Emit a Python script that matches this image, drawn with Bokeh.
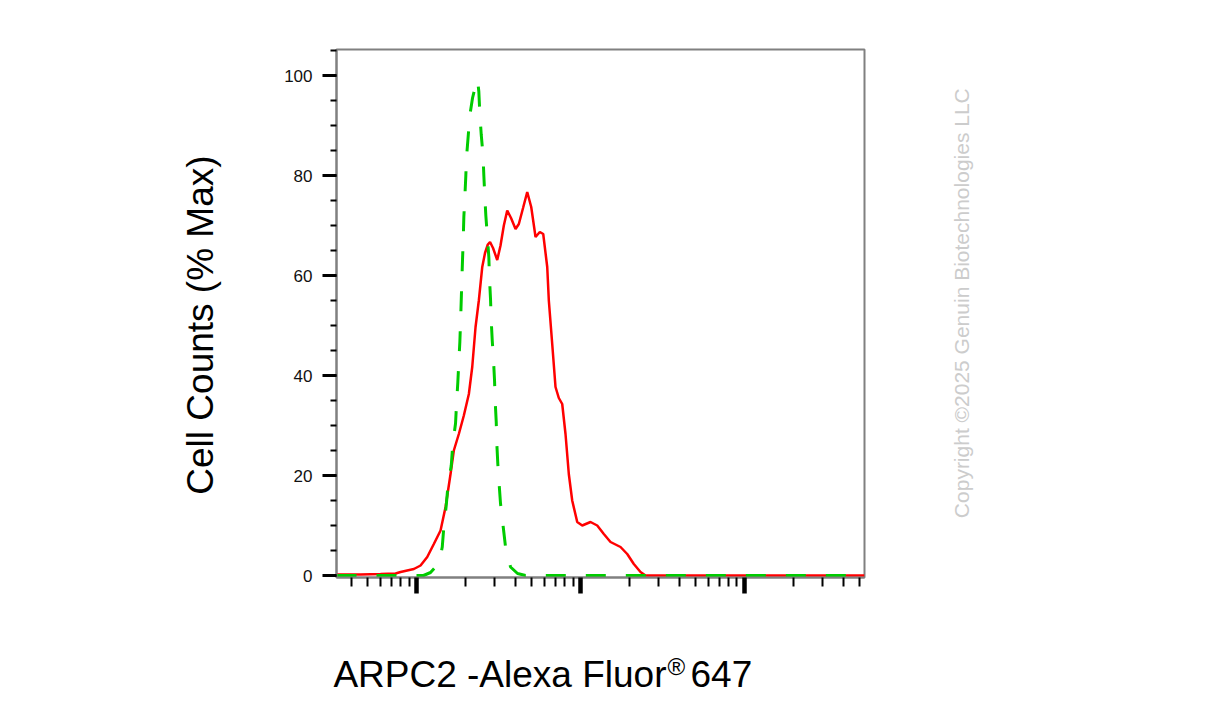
import math
from bokeh.plotting import figure
from bokeh.models import FixedTicker, Range1d
from bokeh.layouts import row, column
from bokeh.core.properties import value
from bokeh.embed import file_html
from bokeh.resources import INLINE

# ---- data (fluorescence intensity, % of max) ----
control_x = [32.5, 79.9, 110.3, 121.7, 130.6, 140.1, 143.5, 146.7, 151.7, 155.2,
             162.8, 166.5, 172.9, 175.4, 178.6, 181.1, 183.7, 185.5, 187.3, 188.9,
             190.8, 192.7, 194.3, 197.1, 199.8, 201.8, 206.7, 211.3, 219.5, 229.0,
             235.5, 239.8, 243.2, 248.0, 254.4, 257.3, 260.9, 264.6, 271.0, 276.0,
             278.7, 282.6, 285.4, 289.5, 294.8, 299.0, 301.9, 306.2, 308.8, 313.1,
             319.4, 325.2, 337.8, 348.9, 374.3, 413.0, 461.9, 53930]
control_y = [0, 0, 0, 0.6, 1.7, 4, 5.7, 9.7, 14, 17.7,
             22, 26.4, 30.4, 34.4, 38.7, 42.7, 46.7, 50.7, 55, 59,
             63.3, 67.3, 71.7, 75.7, 80, 83.7, 88, 92, 95.5, 98,
             99.2, 96.8, 92.4, 88.2, 84, 80, 75.7, 72, 67.3, 63.7,
             59.3, 55.3, 51, 47, 43, 39, 34.7, 30.7, 26.3, 22.3,
             18, 14.4, 9.7, 5.7, 1.7, 0.4, 0, 0]

sample_x = [32.5, 45.6, 60.3, 74.5, 79.9, 96.3, 105.8, 116.2, 127.5, 140.1,
            150.3, 161.2, 168.8, 181.1, 194.3, 208.5, 218.6, 229.0, 239.8, 251.6,
            261.6, 272.1, 280.7, 292.7, 310.5, 325.2, 340.7, 357.3, 376.9, 401.6,
            420.6, 446.2, 473.2, 500.5, 531.8, 564.7, 592.3, 626.6, 640.8, 672.1,
            703.9, 737.3, 773.4, 810.0, 848.4, 889.8, 954.8, 1024.2, 1150.8, 1264.5,
            1387.1, 1523.7, 1753.9, 1926.8, 2113.5, 2322.0, 2491.0, 5393, 53930]
sample_y = [0.2, 0.2, 0.3, 0.4, 0.7, 1.3, 2, 3.7, 6.3, 9,
            13.7, 20.3, 25, 28.3, 32, 36.3, 41.7, 49.7, 55, 61.7,
            64.5, 66.2, 66.7, 65.5, 63.1, 66, 70, 73, 71.5, 69.3,
            70.3, 73.5, 76.7, 73.7, 67.7, 68.7, 68.3, 61.7, 55, 46.3,
            37.7, 35.5, 34.3, 28.3, 20.3, 15, 10.7, 10, 10.7, 10,
            8.3, 6.7, 5.7, 4.3, 2.3, 0.7, 0, 0, 0]

y_major = [0, 20, 40, 60, 80, 100]
y_minor = [0, 5, 10, 15, 20, 25, 30, 35, 40, 45, 50, 55, 60, 65, 70, 75, 80, 85, 90, 95, 100, 105]
x_major = [100, 1000, 10000]
x_minor = [40, 50, 60, 70, 80, 90,
           200, 300, 400, 500, 600, 700, 800, 900,
           2000, 3000, 4000, 5000, 6000, 7000, 8000, 9000,
           20000, 30000, 40000, 50000]

x_title = "ARPC2 -Alexa Fluor"
x_title_mark = "®"
x_title_end = "647"
y_title = "Cell Counts (% Max)"
copyright_text = "Copyright ©2025 Genuin Biotechnologies LLC"

FONT = "Liberation Sans"
TOP_H = 640


def blank(width, height):
    f = figure(width=width, height=height,
               x_range=Range1d(0, width), y_range=Range1d(0, height),
               output_backend="svg", toolbar_location=None, min_border=0,
               x_axis_location=None, y_axis_location=None)
    f.grid.visible = False
    f.outline_line_color = None
    f.background_fill_color = "white"
    f.border_fill_color = "white"
    return f


# ---- main chart ----
p = figure(width=700, height=TOP_H, x_axis_type="log",
           x_range=Range1d(32.5, 53930), y_range=Range1d(-0.4, 105.2),
           output_backend="svg", toolbar_location=None,
           min_border_left=106, min_border_right=66,
           min_border_top=49, min_border_bottom=63)
p.grid.visible = False
p.background_fill_color = "white"
p.border_fill_color = "white"
p.outline_line_color = "#808080"
p.outline_line_width = 2

ya = p.yaxis[0]
ya.ticker = FixedTicker(ticks=y_major, minor_ticks=y_minor)
ya.axis_line_color = "#808080"
ya.axis_line_width = 2
ya.major_tick_line_color = "black"
ya.major_tick_line_width = 3
ya.major_tick_out = 14
ya.major_tick_in = 0
ya.minor_tick_line_color = "black"
ya.minor_tick_line_width = 2
ya.minor_tick_out = 6
ya.minor_tick_in = 0
ya.major_label_standoff = 10
ya.major_label_text_font = FONT
ya.major_label_text_font_size = "17px"
ya.major_label_text_color = "#111111"

xa = p.xaxis[0]
xa.ticker = FixedTicker(ticks=x_major, minor_ticks=x_minor)
xa.axis_line_color = "#808080"
xa.axis_line_width = 2
xa.major_tick_line_color = "black"
xa.major_tick_line_width = 4.5
xa.major_tick_out = 16
xa.major_tick_in = 0
xa.minor_tick_line_color = "black"
xa.minor_tick_line_width = 2
xa.minor_tick_out = 9
xa.minor_tick_in = 0
xa.major_label_text_font_size = "0px"
xa.major_label_overrides = {100: "", 1000: "", 10000: ""}

p.line(sample_x, sample_y, line_color="#ff0000", line_width=2.5)
p.line(control_x, control_y, line_color="#00cc00", line_width=3, line_dash="20 20")

# ---- y title (left strip) ----
pl = blank(230, TOP_H)
pl.text(x=[199.5], y=[306], text=[y_title], angle=math.pi / 2,
        text_font=value(FONT), text_font_size=value("37px"),
        text_align="center", text_baseline="alphabetic", text_color="black")

# ---- copyright (right strip) ----
pr = blank(270, TOP_H)
pr.text(x=[31], y=[332.5], text=[copyright_text], angle=math.pi / 2,
        text_font=value(FONT), text_font_size=value("21px"),
        text_align="center", text_baseline="alphabetic", text_color="#cccccc")

# ---- x title (bottom strip) ----
BOT_H = 64
pb = blank(1200, BOT_H)
pb.text(x=[666], y=[30.3], text=[x_title],
        text_font=value(FONT), text_font_size=value("37px"),
        text_align="right", text_baseline="alphabetic", text_color="black")
pb.text(x=[667], y=[38.5], text=[x_title_mark],
        text_font=value(FONT), text_font_size=value("24px"),
        text_align="left", text_baseline="alphabetic", text_color="black")
pb.text(x=[690], y=[30.3], text=[x_title_end],
        text_font=value(FONT), text_font_size=value("37px"),
        text_align="left", text_baseline="alphabetic", text_color="black")

layout = column(row(pl, p, pr), pb)
open("out.html", "w").write(file_html(layout, INLINE))
